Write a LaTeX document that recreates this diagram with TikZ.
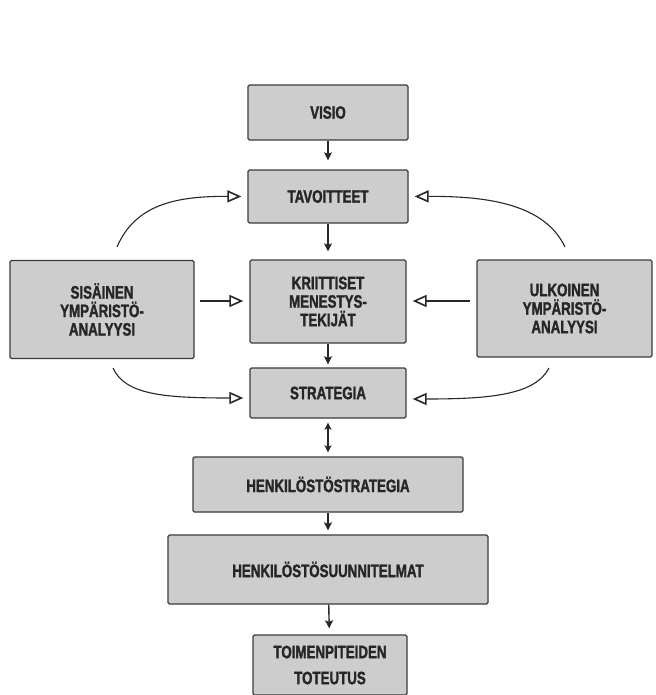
\documentclass[tikz,border=0pt]{standalone}
\usepackage{fontspec}
\newfontfamily\boxfont{Liberation Sans}[UprightFont=*-Bold, FakeStretch=0.74, FakeBold=1.6]
\usetikzlibrary{arrows.meta}
\definecolor{boxgray}{RGB}{205,205,205}
\definecolor{edgegray}{RGB}{60,60,60}
\definecolor{linegray}{RGB}{40,40,40}
\tikzset{
  stepbox/.style={draw=edgegray, line width=1.3pt, fill=boxgray, rounded corners=1.5pt,
    inner sep=0pt, align=center, font=\fontsize{18}{18.5}\selectfont\boxfont,
    text=black!85},
  flow/.style={draw=linegray, line width=1.4pt, -{Stealth[length=8pt,width=8pt,inset=1.5pt]}},
  bothflow/.style={draw=linegray, line width=1.4pt, {Stealth[length=7pt,width=7pt,inset=1.5pt]}-{Stealth[length=7pt,width=7pt,inset=1.5pt]}},
  feed/.style={draw=linegray, line width=1.1pt, -{Triangle[open,length=14pt,width=12pt,line width=1.6pt]}}
}
\begin{document}
\begin{tikzpicture}[x=1pt,y=-1pt]
\useasboundingbox[fill=white] (0,0) rectangle (655,695);

% boxes, given by their corners
\node[stepbox, minimum width=160pt, minimum height=55pt] (visio) at (328,112.5) {VISIO};
\node[stepbox, minimum width=160pt, minimum height=53pt] (tav) at (328,196.5) {TAVOITTEET};
\node[stepbox, minimum width=156pt, minimum height=83pt] (krit) at (328,301.5) {KRIITTISET\\MENESTYS-\\TEKIJÄT};
\node[stepbox, minimum width=156pt, minimum height=50pt] (strat) at (328,393) {STRATEGIA};
\node[stepbox, minimum width=184pt, minimum height=98pt] (sis) at (102,309.5) {SISÄINEN\\YMPÄRISTÖ-\\ANALYYSI};
\node[stepbox, minimum width=175pt, minimum height=97pt] (ulk) at (564.5,308.5) {ULKOINEN\\YMPÄRISTÖ-\\ANALYYSI};
\node[stepbox, minimum width=270pt, minimum height=55pt] (hstrat) at (328,484.5) {HENKILÖSTÖSTRATEGIA};
\node[stepbox, minimum width=320pt, minimum height=69pt] (hsuun) at (328,569.5) {HENKILÖSTÖSUUNNITELMAT};
\node[stepbox, minimum width=154pt, minimum height=60pt, font=\fontsize{18}{26}\selectfont\boxfont] (toim) at (330,665) {TOIMENPITEIDEN\\TOTEUTUS};

% main vertical chain
\draw[flow, shorten >=9pt] (visio) -- (tav);
\draw[flow, shorten >=8pt] (tav) -- (krit);
\draw[flow, shorten >=3pt] (krit) -- (strat);
\draw[bothflow, shorten <=4pt, shorten >=4pt] (strat) -- (hstrat);
\draw[flow, shorten >=4pt] (hstrat) -- (hsuun);
\draw[flow, shorten >=6pt] (hsuun) -- (toim);

% feeds from the two analyses
\coordinate (sisTop) at (117,247);
\coordinate (sisBot) at (113,368);
\coordinate (ulkTop) at (565,247);
\coordinate (ulkBot) at (549,368);
\coordinate (sisMid) at (200,301);
\coordinate (ulkMid) at (470,301);

\draw[feed, shorten >=6pt] (sisTop) .. controls (135,205) and (175,196) .. (tav.west);
\draw[feed, shorten >=6pt] (ulkTop) .. controls (545,205) and (490,196) .. (tav.east);
\draw[feed, shorten >=6pt] (sisMid) -- (sisMid -| krit.west);
\draw[feed, shorten >=6pt] (ulkMid) -- (ulkMid -| krit.east);
\draw[feed, shorten >=6pt] (sisBot) .. controls (125,395) and (165,398) .. (strat.west |- 0,398);
\draw[feed, shorten >=6pt] (ulkBot) .. controls (535,395) and (490,399) .. (strat.east |- 0,399);
\end{tikzpicture}
\end{document}
